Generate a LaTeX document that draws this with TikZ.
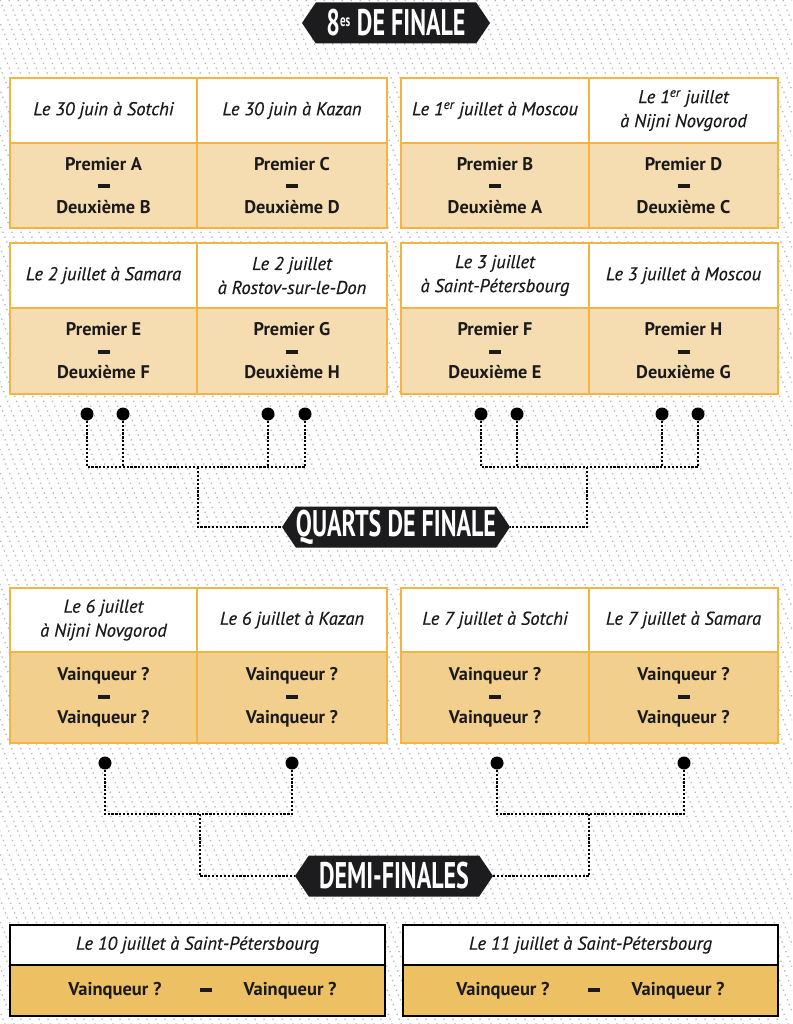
\documentclass[tikz,border=0pt]{standalone}
\usepackage{fontspec}
\setmainfont{PT Sans}
\newfontfamily\hfont{PT Sans}[FakeBold=0.4]
\newfontfamily\bannerfont{PT Sans}[FakeStretch=0.65]
\usetikzlibrary{shapes.symbols}
\definecolor{gold}{HTML}{F2B541}
\definecolor{peach}{HTML}{F6DDB1}
\definecolor{tanq}{HTML}{F2CF8C}
\definecolor{tanf}{HTML}{EDC063}
\definecolor{txt}{HTML}{1A1A1A}
\definecolor{bannerbg}{HTML}{1C1B1D}
\definecolor{hatchc}{HTML}{B8B8B8}
\newcommand{\tiret}{\rule[0.2em]{12pt}{3.8pt}}
\tikzset{
  hatch/.style={hatchc, line width=1.3pt, dash pattern=on 1.3pt off 3.9pt},
  cellbase/.style={line width=2.3pt, inner sep=0pt, align=center, text=txt},
  hcell/.style={cellbase, draw=gold, fill=white, font=\hfont\itshape\fontsize{18.5}{24}\selectfont},
  bcell/.style={cellbase, draw=gold, fill=peach, font=\bfseries\fontsize{18.3}{21.5}\selectfont},
  qcell/.style={bcell, fill=tanq},
  fhcell/.style={hcell, draw=black},
  fbcell/.style={cellbase, draw=black, fill=tanf, font=\bfseries\fontsize{18.5}{21.5}\selectfont},
  banner/.style={signal, signal to=west and east, signal pointer angle=112, fill=bannerbg, text=white,
    font=\bannerfont\bfseries\fontsize{37}{37}\selectfont, minimum height=41pt, inner sep=0pt},
  conn/.style={black, line width=2.4pt, dash pattern=on 2.2pt off 1.7pt},
  dot/.style={circle, fill=black, minimum size=13pt, inner sep=0pt},
}
\begin{document}
\begin{tikzpicture}[x=1pt,y=-1pt]
\useasboundingbox (0,0) rectangle (792,1024);
\fill[white] (0,0) rectangle (792,1024);
\begin{scope}
  \clip (0,0) rectangle (792,1024);
  \foreach \i in {-50,...,90} \draw[hatch] (\i*9,0) -- ++(410,1024);
\end{scope}

% ---------- banners
\node[banner, minimum width=188pt] (b8) at (396,23) {8\textsuperscript{\fontsize{17}{17}\selectfont es} DE FINALE};
\node[banner, minimum width=228pt] (bq) at (396,527) {QUARTS DE FINALE};
\node[banner, minimum width=198pt] (bd) at (394,876) {DEMI-FINALES};

% ---------- 8es row 1
\node[hcell, minimum width=187pt, minimum height=65pt] (h1) at (103.5,110.5) {Le 30 juin à Sotchi};
\node[hcell, minimum width=190pt, minimum height=65pt] (h2) at (292,110.5) {Le 30 juin à Kazan};
\node[hcell, minimum width=188pt, minimum height=65pt] (h3) at (495,110.5) {Le 1\textsuperscript{er} juillet à Moscou};
\node[hcell, minimum width=189pt, minimum height=65pt] (h4) at (683.5,110.5) {Le 1\textsuperscript{er} juillet\\à Nijni Novgorod};
\node[bcell, minimum width=187pt, minimum height=85pt] (c1) at (103.5,185.5) {Premier A\\\tiret\\Deuxième B};
\node[bcell, minimum width=190pt, minimum height=85pt] (c2) at (292,185.5) {Premier C\\\tiret\\Deuxième D};
\node[bcell, minimum width=188pt, minimum height=85pt] (c3) at (495,185.5) {Premier B\\\tiret\\Deuxième A};
\node[bcell, minimum width=189pt, minimum height=85pt] (c4) at (683.5,185.5) {Premier D\\\tiret\\Deuxième C};

% ---------- 8es row 2
\node[hcell, minimum width=187pt, minimum height=65pt] (h5) at (103.5,275.5) {Le 2 juillet à Samara};
\node[hcell, minimum width=190pt, minimum height=65pt] (h6) at (292,275.5) {Le 2 juillet\\à Rostov-sur-le-Don};
\node[hcell, minimum width=188pt, minimum height=65pt] (h7) at (495,275.5) {Le 3 juillet\\à Saint-Pétersbourg};
\node[hcell, minimum width=189pt, minimum height=65pt] (h8) at (683.5,275.5) {Le 3 juillet à Moscou};
\node[bcell, minimum width=187pt, minimum height=86pt] (c5) at (103.5,351) {Premier E\\\tiret\\Deuxième F};
\node[bcell, minimum width=190pt, minimum height=86pt] (c6) at (292,351) {Premier G\\\tiret\\Deuxième H};
\node[bcell, minimum width=188pt, minimum height=86pt] (c7) at (495,351) {Premier F\\\tiret\\Deuxième E};
\node[bcell, minimum width=189pt, minimum height=86pt] (c8) at (683.5,351) {Premier H\\\tiret\\Deuxième G};

% ---------- quarts
\node[hcell, minimum width=187pt, minimum height=64pt] (qh1) at (103.5,620) {Le 6 juillet\\à Nijni Novgorod};
\node[hcell, minimum width=190pt, minimum height=64pt] (qh2) at (292,620) {Le 6 juillet à Kazan};
\node[hcell, minimum width=188pt, minimum height=64pt] (qh3) at (495,620) {Le 7 juillet à Sotchi};
\node[hcell, minimum width=189pt, minimum height=64pt] (qh4) at (683.5,620) {Le 7 juillet à Samara};
\node[qcell, minimum width=187pt, minimum height=91pt] (q1) at (103.5,697.5) {Vainqueur ?\\\tiret\\Vainqueur ?};
\node[qcell, minimum width=190pt, minimum height=91pt] (q2) at (292,697.5) {Vainqueur ?\\\tiret\\Vainqueur ?};
\node[qcell, minimum width=188pt, minimum height=91pt] (q3) at (495,697.5) {Vainqueur ?\\\tiret\\Vainqueur ?};
\node[qcell, minimum width=189pt, minimum height=91pt] (q4) at (683.5,697.5) {Vainqueur ?\\\tiret\\Vainqueur ?};

% ---------- demi-finales
\node[fhcell, minimum width=375pt, minimum height=40pt] (dh1) at (197.5,945) {Le 10 juillet à Saint-Pétersbourg};
\node[fhcell, minimum width=375pt, minimum height=40pt] (dh2) at (590.5,945) {Le 11 juillet à Saint-Pétersbourg};
\node[fbcell, minimum width=375pt, minimum height=51pt] (d1) at (197.5,990.5) {\hspace{10pt}Vainqueur ?\hspace{38pt}\tiret\hspace{32pt}Vainqueur ?};
\node[fbcell, minimum width=375pt, minimum height=51pt] (d2) at (590.5,990.5) {Vainqueur ?\hspace{38pt}\tiret\hspace{32pt}Vainqueur ?};

% ---------- dots 8es
\node[dot] (p1) at (87,414) {};
\node[dot] (p2) at (123,414) {};
\node[dot] (p3) at (268,414) {};
\node[dot] (p4) at (305,414) {};
\node[dot] (p5) at (481,414) {};
\node[dot] (p6) at (517,414) {};
\node[dot] (p7) at (662,414) {};
\node[dot] (p8) at (698,414) {};
\coordinate (j1) at (198,467);
\coordinate (j2) at (587,467);
\draw[conn] (p1) |- (j1);
\draw[conn] (p4) |- (j1);
\draw[conn] (p2) -- (p2 |- j1);
\draw[conn] (p3) -- (p3 |- j1);
\draw[conn] (j1) |- (bq.west);
\draw[conn] (p5) |- (j2);
\draw[conn] (p8) |- (j2);
\draw[conn] (p6) -- (p6 |- j2);
\draw[conn] (p7) -- (p7 |- j2);
\draw[conn] (j2) |- (bq.east);

% ---------- dots quarts
\node[dot] (r1) at (105,763) {};
\node[dot] (r2) at (292,763) {};
\node[dot] (r3) at (497,763) {};
\node[dot] (r4) at (684,763) {};
\coordinate (k1) at (200,814);
\coordinate (k2) at (589,814);
\draw[conn] (r1) |- (k1);
\draw[conn] (r2) |- (k1);
\draw[conn] (k1) |- (bd.west);
\draw[conn] (r3) |- (k2);
\draw[conn] (r4) |- (k2);
\draw[conn] (k2) |- (bd.east);
\end{tikzpicture}
\end{document}
